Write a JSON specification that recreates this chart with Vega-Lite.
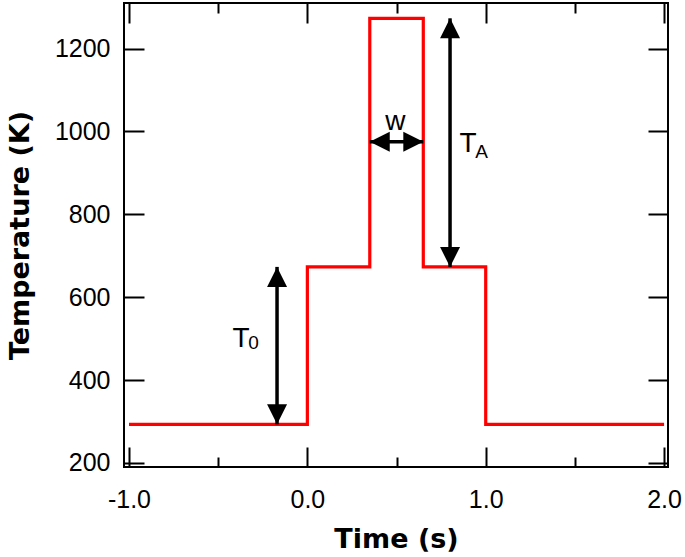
{
  "$schema": "https://vega.github.io/schema/vega-lite/v6.json",
  "width": 544,
  "height": 464,
  "autosize": "none",
  "padding": {"left": 124, "top": 3, "right": 17, "bottom": 90},
  "background": "white",
  "config": {
    "view": {"stroke": "black", "strokeWidth": 2},
    "axis": {
      "grid": false,
      "domain": false,
      "tickColor": "black",
      "tickWidth": 2,
      "labelFont": "Liberation Sans",
      "labelFontSize": 25,
      "labelColor": "black",
      "titleFont": "DejaVu Sans",
      "titleFontWeight": "bold",
      "titleFontSize": 27,
      "titleColor": "black"
    }
  },
  "datasets": {
    "profile": [
      {"i": 1, "time": -1.0, "temp": 293},
      {"i": 2, "time": 0.0, "temp": 293},
      {"i": 3, "time": 0.0, "temp": 673},
      {"i": 4, "time": 0.35, "temp": 673},
      {"i": 5, "time": 0.35, "temp": 1273},
      {"i": 6, "time": 0.65, "temp": 1273},
      {"i": 7, "time": 0.65, "temp": 673},
      {"i": 8, "time": 1.0, "temp": 673},
      {"i": 9, "time": 1.0, "temp": 293},
      {"i": 10, "time": 2.0, "temp": 293}
    ],
    "shafts": [
      {"time": -0.17, "temp": 293, "time2": -0.17, "temp2": 673},
      {"time": 0.8, "temp": 673, "time2": 0.8, "temp2": 1273},
      {"time": 0.35, "temp": 975, "time2": 0.65, "temp2": 975}
    ],
    "heads": [
      {"time": -0.17, "temp": 673, "dir": "up"},
      {"time": -0.17, "temp": 293, "dir": "down"},
      {"time": 0.8, "temp": 1273, "dir": "up"},
      {"time": 0.8, "temp": 673, "dir": "down"},
      {"time": 0.35, "temp": 975, "dir": "left"},
      {"time": 0.65, "temp": 975, "dir": "right"}
    ],
    "mainLabels": [
      {"time": -0.42, "temp": 480, "label": "T"},
      {"time": 0.853, "temp": 951, "label": "T"},
      {"time": 0.437, "temp": 1004, "label": "w"}
    ],
    "subLabels": [
      {"time": -0.331, "temp": 475, "label": "0"},
      {"time": 0.942, "temp": 937, "label": "A"}
    ]
  },
  "resolve": {"axis": {"x": "independent", "y": "independent"}},
  "layer": [
    {
      "data": {"name": "profile"},
      "mark": {"type": "line", "color": "#ff0000", "strokeWidth": 3.2, "strokeJoin": "miter"},
      "encoding": {
        "x": {"field": "time", "type": "quantitative",
              "scale": {"domain": [-1.028, 2.022], "nice": false, "zero": false},
              "axis": {"orient": "bottom", "values": [-1, 0, 1, 2], "labelExpr": "datum.value < 0 ? '-' + format(-datum.value, '.1f') : format(datum.value, '.1f')", "ticks": false, "labelPadding": 20, "title": "Time (s)", "titlePadding": 14}},
        "y": {"field": "temp", "type": "quantitative",
              "scale": {"domain": [190, 1310], "nice": false, "zero": false},
              "axis": {"orient": "left", "values": [200, 400, 600, 800, 1000, 1200], "format": "d", "ticks": false, "labelPadding": 14, "title": "Temperature (K)", "titlePadding": 20}},
        "order": {"field": "i", "type": "quantitative"}
      }
    },
    {
      "data": {"name": "shafts"},
      "mark": {"type": "rule", "color": "black", "strokeWidth": 3.5},
      "encoding": {
        "x": {"field": "time", "type": "quantitative",
              "scale": {"domain": [-1.028, 2.022], "nice": false, "zero": false},
              "axis": {"orient": "bottom", "values": [-1, 0, 1, 2], "labels": false, "title": null, "tickSize": -20}},
        "x2": {"field": "time2"},
        "y": {"field": "temp", "type": "quantitative",
              "scale": {"domain": [190, 1310], "nice": false, "zero": false},
              "axis": {"orient": "left", "values": [200, 400, 600, 800, 1000, 1200], "labels": false, "title": null, "tickSize": -20}},
        "y2": {"field": "temp2"}
      }
    },
    {
      "data": {"name": "heads"},
      "mark": {"type": "point", "filled": true, "color": "black", "opacity": 1, "size": 400, "strokeWidth": 0},
      "encoding": {
        "x": {"field": "time", "type": "quantitative",
              "scale": {"domain": [-1.028, 2.022], "nice": false, "zero": false},
              "axis": {"orient": "top", "values": [-1, 0, 1, 2], "labels": false, "title": null, "tickSize": -20}},
        "y": {"field": "temp", "type": "quantitative",
              "scale": {"domain": [190, 1310], "nice": false, "zero": false},
              "axis": {"orient": "right", "values": [200, 400, 600, 800, 1000, 1200], "labels": false, "title": null, "tickSize": -20}},
        "shape": {"field": "dir", "type": "nominal", "legend": null,
                  "scale": {"domain": ["up", "down", "left", "right"],
                            "range": ["M0,0L-1,2L1,2Z", "M0,0L-1,-2L1,-2Z", "M0,0L2,-1L2,1Z", "M0,0L-2,-1L-2,1Z"]}}
      }
    },
    {
      "data": {"name": "mainLabels"},
      "mark": {"type": "text", "font": "Liberation Sans", "fontSize": 28, "align": "left", "baseline": "alphabetic", "color": "black"},
      "encoding": {
        "x": {"field": "time", "type": "quantitative",
              "scale": {"domain": [-1.028, 2.022], "nice": false, "zero": false},
              "axis": {"orient": "bottom", "values": [-0.5, 0.5, 1.5], "labels": false, "title": null, "tickSize": -10}},
        "y": {"field": "temp", "type": "quantitative",
              "scale": {"domain": [190, 1310], "nice": false, "zero": false},
              "axis": null},
        "text": {"field": "label"}
      }
    },
    {
      "data": {"name": "subLabels"},
      "mark": {"type": "text", "font": "Liberation Sans", "fontSize": 19, "align": "left", "baseline": "alphabetic", "color": "black"},
      "encoding": {
        "x": {"field": "time", "type": "quantitative",
              "scale": {"domain": [-1.028, 2.022], "nice": false, "zero": false},
              "axis": {"orient": "top", "values": [-0.5, 0.5, 1.5], "labels": false, "title": null, "tickSize": -10}},
        "y": {"field": "temp", "type": "quantitative",
              "scale": {"domain": [190, 1310], "nice": false, "zero": false},
              "axis": null},
        "text": {"field": "label"}
      }
    }
  ]
}
